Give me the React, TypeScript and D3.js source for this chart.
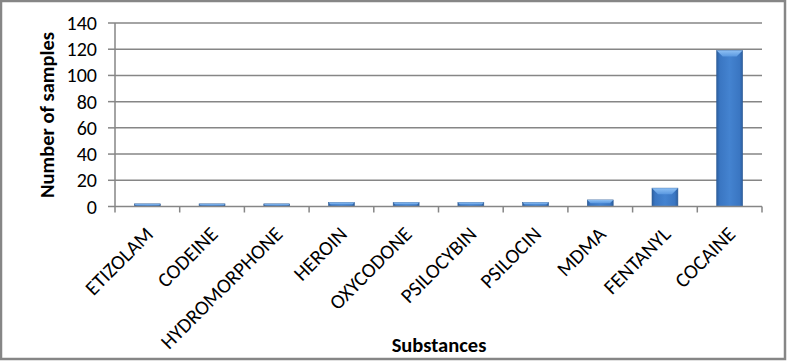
import React from "react";
import * as d3 from "d3";

const categories = ["ETIZOLAM", "CODEINE", "HYDROMORPHONE", "HEROIN", "OXYCODONE", "PSILOCYBIN", "PSILOCIN", "MDMA", "FENTANYL", "COCAINE"];
const values = [2, 2, 2, 3, 3, 3, 3, 5, 14, 119];
const yTicks = [0, 20, 40, 60, 80, 100, 120, 140];
const yTitle = "Number of samples";
const xTitle = "Substances";

const W = 787, H = 361;
const FONT = "Carlito, Lato, 'Open Sans', sans-serif";

export default function App() {
  const left = 115, right = 762, top = 23, bottom = 206.5;
  const x = d3.scaleBand<string>().domain(categories).range([left, right]).paddingInner(0.6).paddingOuter(0.3);
  const band = d3.scaleBand<string>().domain(categories).range([left, right]);
  const y = d3.scaleLinear().domain([0, 140]).range([bottom, top]);
  const grid = "#868686";
  return (
    <svg width={W} height={H} style={{ position: "absolute", left: 0, top: 0 }}>
      <defs>
        <linearGradient id="barg" x1="0" x2="1" y1="0" y2="0">
          <stop offset="0" stopColor="#2d5f9f" />
          <stop offset="0.12" stopColor="#3a76c2" />
          <stop offset="0.5" stopColor="#4483d0" />
          <stop offset="0.88" stopColor="#3a76c2" />
          <stop offset="1" stopColor="#2d5f9f" />
        </linearGradient>
        <linearGradient id="topg" x1="0" x2="0" y1="0" y2="1">
          <stop offset="0" stopColor="#8ec0f4" />
          <stop offset="1" stopColor="#5a98e0" />
        </linearGradient>
      </defs>
      <rect x={1} y={1} width={W - 3} height={H - 3} fill="#fff" stroke={grid} strokeWidth={2.5} />
      {yTicks.map((t) => (
        <g key={t}>
          {t > 0 && <line x1={left} x2={right} y1={y(t)} y2={y(t)} stroke={grid} strokeWidth={1.5} />}
          <line x1={left - 7} x2={left} y1={y(t)} y2={y(t)} stroke={grid} strokeWidth={1.5} />
          <text x={97} y={y(t)} dy="0.35em" textAnchor="end" fontFamily={FONT} fontSize={20} fill="#000">{t}</text>
        </g>
      ))}
      <line x1={left} x2={left} y1={top} y2={bottom} stroke={grid} strokeWidth={1.5} />
      {categories.map((c, i) => {
        const bx = x(c)!, bw = x.bandwidth();
        const by = y(values[i]), bh = bottom - by;
        const bev = Math.min(bw / 4, bh / 2, 6);
        return (
          <g key={c}>
            <rect x={bx} y={by} width={bw} height={bh} fill="url(#barg)" stroke="#2c5a94" strokeWidth={0.6} />
            <polygon points={`${bx},${by} ${bx + bw},${by} ${bx + bw - bev},${by + bev} ${bx + bev},${by + bev}`} fill="url(#topg)" />
          </g>
        );
      })}
      <line x1={left} x2={right} y1={bottom} y2={bottom} stroke={grid} strokeWidth={1.5} />
      {[...categories.map((c) => band(c)!), right].map((tx, i) => (
        <line key={i} x1={tx} x2={tx} y1={bottom} y2={bottom + 6} stroke={grid} strokeWidth={1.5} />
      ))}
      {categories.map((c) => {
        const cx = band(c)! + band.bandwidth() / 2 + 7;
        const cy = bottom + 29;
        return (
          <text key={c} transform={`translate(${cx},${cy}) rotate(-45)`} textAnchor="end" fontFamily={FONT} fontSize={20.5} fill="#000">{c}</text>
        );
      })}
      <text transform={`translate(54,115) rotate(-90)`} textAnchor="middle" fontFamily={FONT} fontSize={20.5} fontWeight="bold" fill="#000">{yTitle}</text>
      <text x={439} y={352} textAnchor="middle" fontFamily={FONT} fontSize={20.5} fontWeight="bold" fill="#000">{xTitle}</text>
    </svg>
  );
}
